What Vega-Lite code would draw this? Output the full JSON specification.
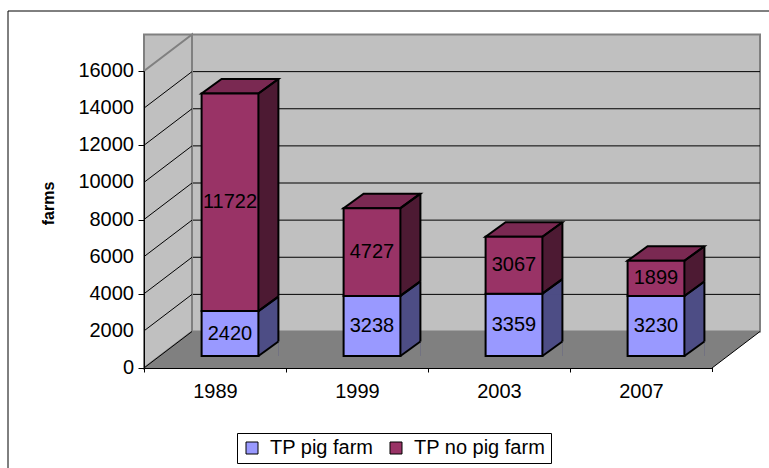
{
  "$schema": "https://vega.github.io/schema/vega-lite/v6.json",
  "autosize": "none",
  "padding": {"left": 144, "top": 71, "right": 57, "bottom": 100},
  "width": 568,
  "height": 297,
  "background": "white",
  "config": {"view": {"stroke": null}, "font": "Liberation Sans"},
  "datasets": {
    "bars": [
      {"year": "1989", "series": "TP pig farm", "farms": 2420},
      {"year": "1989", "series": "TP no pig farm", "farms": 11722},
      {"year": "1999", "series": "TP pig farm", "farms": 3238},
      {"year": "1999", "series": "TP no pig farm", "farms": 4727},
      {"year": "2003", "series": "TP pig farm", "farms": 3359},
      {"year": "2003", "series": "TP no pig farm", "farms": 3067},
      {"year": "2007", "series": "TP pig farm", "farms": 3230},
      {"year": "2007", "series": "TP no pig farm", "farms": 1899}
    ],
    "ticks": [
      {"v": 0}, {"v": 2000}, {"v": 4000}, {"v": 6000}, {"v": 8000},
      {"v": 10000}, {"v": 12000}, {"v": 14000}, {"v": 16000}
    ]
  },
  "layer": [
    {
      "data": {"values": [{}]},
      "mark": {"type": "rule", "color": "black", "strokeWidth": 1},
      "encoding": {"x": {"value": -136}, "x2": {"value": 630}, "y": {"value": -60}}
    },
    {
      "data": {"values": [{}]},
      "mark": {"type": "rule", "color": "black", "strokeWidth": 1},
      "encoding": {"x": {"value": -136}, "y": {"value": -60}, "y2": {"value": 400}}
    },
    {
      "data": {"name": "ticks"},
      "transform": [{"filter": "datum.v === 0"}],
      "mark": {"type": "rect", "fill": "#C0C0C0", "stroke": "#808080", "strokeWidth": 2,
               "xOffset": 48, "x2Offset": 48, "yOffset": -36.5, "y2Offset": -36.5},
      "encoding": {
        "y": {"field": "v", "type": "quantitative", "title": "farms",
              "scale": {"domain": [0, 16000], "nice": false, "zero": true},
              "axis": {"values": [0, 2000, 4000, 6000, 8000, 10000, 12000, 14000, 16000],
                       "labels": false,
                       "grid": false, "domainColor": "black", "domainWidth": 1,
                       "tickColor": "black", "tickSize": 6,
                       "title": "farms", "titleFont": "Liberation Sans", "titleFontSize": 16,
                       "titleFontWeight": "bold", "titleColor": "black", "titleX": -96, "titleY": 132,
                       "titleAngle": 270, "titleAlign": "center", "titleBaseline": "middle",
                       "zindex": 1}},
        "y2": {"datum": 16000}
      }
    },
    {
      "data": {"name": "ticks"},
      "transform": [{"filter": "datum.v > 0 && datum.v < 16000"}],
      "mark": {"type": "rule", "color": "black", "strokeWidth": 1,
               "xOffset": 48, "x2Offset": 48, "yOffset": -36.5, "y2Offset": -36.5},
      "encoding": {
        "y": {"field": "v", "type": "quantitative", "title": "farms"}
      }
    },
    {
      "data": {"name": "ticks"},
      "mark": {"type": "text", "align": "right", "baseline": "middle", "fontSize": 20,
               "font": "Liberation Sans", "color": "black"},
      "encoding": {
        "x": {"value": -10},
        "y": {"field": "v", "type": "quantitative", "title": "farms"},
        "text": {"field": "v", "type": "quantitative", "format": "d"}
      }
    },
    {
      "data": {"name": "ticks"},
      "transform": [{"filter": "datum.v === 0"}],
      "mark": {"type": "point", "shape": "M0,0 L0,-297 L48,-333.5 L48,-36.5 Z", "size": 4,
               "filled": true, "fill": "#C0C0C0", "stroke": "#808080", "strokeWidth": 2, "opacity": 1},
      "encoding": {"x": {"value": 0}, "y": {"field": "v", "type": "quantitative", "title": "farms"}}
    },
    {
      "data": {"name": "ticks"},
      "transform": [{"filter": "datum.v === 0"}],
      "mark": {"type": "point", "shape": "M0,0 L568,0 L616,-36.5 L48,-36.5 Z", "size": 4,
               "filled": true, "fill": "#808080", "strokeWidth": 0, "opacity": 1},
      "encoding": {"x": {"value": 0}, "y": {"field": "v", "type": "quantitative", "title": "farms"}}
    },
    {
      "data": {"name": "ticks"},
      "transform": [{"filter": "datum.v < 16000"}],
      "mark": {"type": "rule", "color": "black", "strokeWidth": 1, "y2Offset": -36.5},
      "encoding": {
        "x": {"value": 0}, "x2": {"value": 48},
        "y": {"field": "v", "type": "quantitative", "title": "farms"},
        "y2": {"field": "v"}
      }
    },
    {
      "data": {"name": "ticks"},
      "transform": [{"filter": "datum.v === 0"}],
      "mark": {"type": "point", "shape": "M568,0 L616,-36.5", "size": 4,
               "filled": false, "stroke": "black", "strokeWidth": 1, "opacity": 1},
      "encoding": {"x": {"value": 0}, "y": {"field": "v", "type": "quantitative", "title": "farms"}}
    },
    {
      "data": {"name": "bars"},
      "transform": [
        {"stack": "farms", "groupby": ["year"], "sort": [{"field": "series", "order": "descending"}], "as": ["v0", "v1"]}
      ],
      "encoding": {
        "x": {"field": "year", "type": "ordinal", "title": null,
              "scale": {"paddingInner": 0.6, "paddingOuter": 0.3},
              "axis": {"labelAngle": 0, "tickOffset": -71, "labelOffset": 71, "tickSize": 4, "tickColor": "black",
                       "domainColor": "black", "labelFontSize": 20, "labelFont": "Liberation Sans",
                       "labelColor": "black", "labelPadding": 9, "grid": false, "zindex": 1}},
        "y": {"field": "v1", "type": "quantitative", "title": "farms"}
      },
      "layer": [
        {
          "transform": [{"filter": "datum.year === '2007' && datum.series === 'TP pig farm'"}],
          "mark": {"type": "rule", "color": "black", "strokeWidth": 1, "xOffset": 71.5, "y2Offset": 4},
          "encoding": {"y": {"datum": 0, "type": "quantitative", "title": "farms"}, "y2": {"datum": 0}}
        },
        {
          "transform": [{"filter": "datum.series === 'TP pig farm'"}],
          "mark": {"type": "bar", "width": 20, "xOffset": 53.4, "yOffset": -26.5, "y2Offset": -12, "fill": "#4D4D85"},
          "encoding": {"y2": {"field": "v0"}}
        },
        {
          "transform": [{"filter": "datum.series === 'TP no pig farm'"}],
          "mark": {"type": "bar", "width": 20, "xOffset": 53.4, "yOffset": -26.5, "y2Offset": -12, "fill": "#4D1A33"},
          "encoding": {"y2": {"field": "v0"}}
        },
        {
          "mark": {"type": "point", "shape": "M-1,1 L20,1 L20,-14.5 Z", "size": 4, "filled": true,
                   "strokeWidth": 0, "opacity": 1, "xOffset": 43.4, "yOffset": -12},
          "encoding": {
            "y": {"field": "v0", "type": "quantitative", "title": "farms"},
            "fill": {"condition": {"test": "datum.series === 'TP pig farm'", "value": "#808080"}, "value": "#4D4D85"}
          }
        },
        {
          "transform": [{"filter": "datum.series === 'TP no pig farm'"}],
          "mark": {"type": "point", "shape": "M-28.4,0 L28.4,0 L48.4,-14.5 L-8.4,-14.5 Z", "size": 4,
                   "filled": true, "fill": "#7A2952", "stroke": "black", "strokeWidth": 2, "opacity": 1,
                   "xOffset": 15, "yOffset": -12}
        },
        {
          "mark": {"type": "bar", "xOffset": 15, "x2Offset": 15, "yOffset": -12, "y2Offset": -12,
                   "stroke": "black", "strokeWidth": 2},
          "encoding": {
            "y2": {"field": "v0"},
            "color": {"field": "series", "type": "nominal",
                      "scale": {"domain": ["TP pig farm", "TP no pig farm"], "range": ["#9999FF", "#993366"]},
                      "legend": {"orient": "none", "legendX": 93, "legendY": 362, "direction": "horizontal",
                                 "title": null, "symbolType": "square", "symbolSize": 144,
                                 "symbolStrokeColor": "black", "symbolStrokeWidth": 1,
                                 "labelFontSize": 20, "labelFont": "Liberation Sans", "labelColor": "black",
                                 "strokeColor": "black", "fillColor": "white", "padding": 5,
                                 "columnPadding": 12, "labelOffset": 8}}
          }
        },
        {
          "mark": {"type": "rule", "color": "black", "strokeWidth": 2, "xOffset": 63.4, "yOffset": -26.5, "y2Offset": -26.5},
          "encoding": {"y2": {"field": "v0"}}
        },
        {
          "mark": {"type": "point", "shape": "M0,0 L20,-14.5", "size": 4, "filled": false,
                   "stroke": "black", "strokeWidth": 2, "opacity": 1, "xOffset": 43.4, "yOffset": -12}
        },
        {
          "mark": {"type": "point", "shape": "M0,0 L20,-14.5", "size": 4, "filled": false,
                   "stroke": "black", "strokeWidth": 2, "opacity": 1, "xOffset": 43.4, "yOffset": -12},
          "encoding": {"y": {"field": "v0", "type": "quantitative", "title": "farms"}}
        },
        {
          "transform": [
            {"fold": ["v0", "v1"], "as": ["k", "val"]},
            {"aggregate": [{"op": "mean", "field": "val", "as": "mid"}], "groupby": ["year", "series", "farms"]}
          ],
          "mark": {"type": "text", "fontSize": 20, "font": "Liberation Sans", "color": "black",
                   "align": "center", "baseline": "middle", "xOffset": 15, "yOffset": -12},
          "encoding": {
            "y": {"field": "mid", "type": "quantitative", "title": "farms"},
            "text": {"field": "farms", "type": "quantitative", "format": "d"}
          }
        }
      ]
    }
  ]
}
